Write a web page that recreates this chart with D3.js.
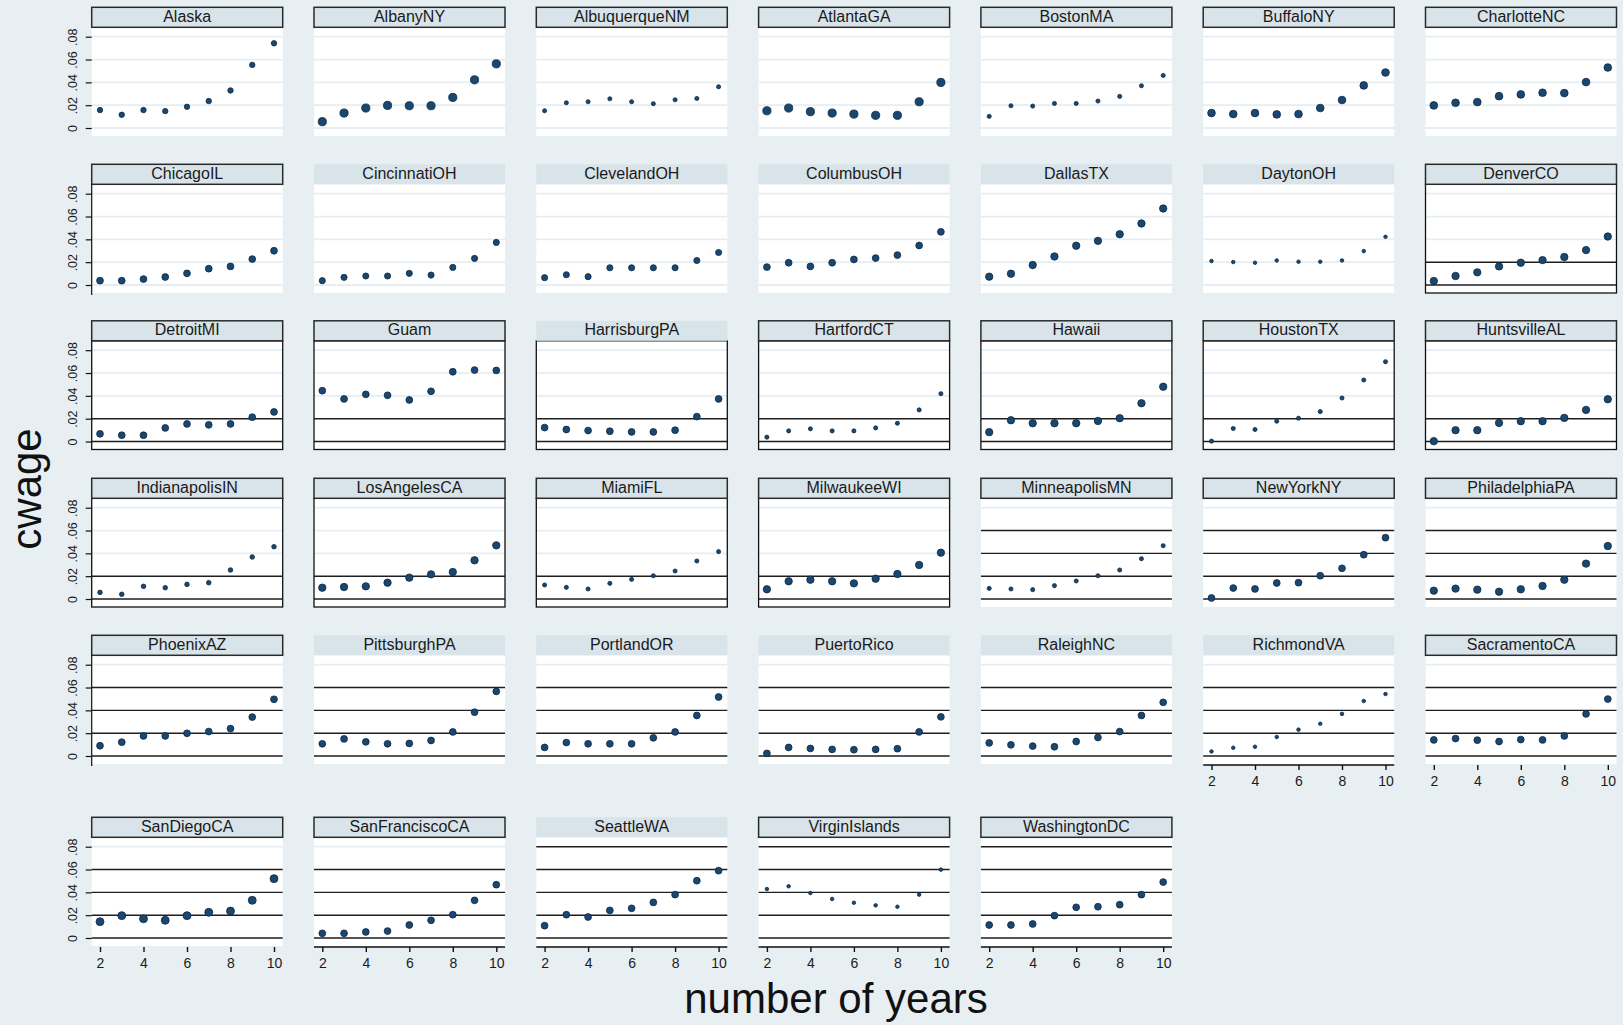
<!DOCTYPE html>
<html>
<head>
<meta charset="utf-8">
<script src="https://cdn.jsdelivr.net/npm/d3@7/dist/d3.min.js"></script>
<style>
  html, body { margin: 0; padding: 0; background: #e8eff2; }
  svg { display: block; font-family: "Liberation Sans", Arial, sans-serif; }
</style>
</head>
<body>
<svg id="chart" width="1623" height="1025"></svg>
<script>
// ---- data -------------------------------------------------------------
const cities = [
  "Alaska", "AlbanyNY", "AlbuquerqueNM", "AtlantaGA", "BostonMA", "BuffaloNY", "CharlotteNC",
  "ChicagoIL", "CincinnatiOH", "ClevelandOH", "ColumbusOH", "DallasTX", "DaytonOH", "DenverCO",
  "DetroitMI", "Guam", "HarrisburgPA", "HartfordCT", "Hawaii", "HoustonTX", "HuntsvilleAL",
  "IndianapolisIN", "LosAngelesCA", "MiamiFL", "MilwaukeeWI", "MinneapolisMN", "NewYorkNY", "PhiladelphiaPA",
  "PhoenixAZ", "PittsburghPA", "PortlandOR", "PuertoRico", "RaleighNC", "RichmondVA", "SacramentoCA",
  "SanDiegoCA", "SanFranciscoCA", "SeattleWA", "VirginIslands", "WashingtonDC"
];

const years = [2, 3, 4, 5, 6, 7, 8, 9, 10];

// cwage by city (rows follow `cities`, columns follow `years`)
const cwage = [
  [.0157, .0116, .0157, .0148, .0186, .0236, .0329, .0553, .0742],
  [.0055, .0131, .0175, .0198, .0195, .0195, .0268, .0422, .0562],
  [.0151, .0221, .0230, .0256, .0230, .0213, .0247, .0259, .0361],
  [.0151, .0175, .0143, .0131, .0122, .0111, .0111, .0230, .0399],
  [.0102, .0195, .0192, .0215, .0215, .0236, .0277, .0370, .0460],
  [.0131, .0122, .0131, .0119, .0122, .0175, .0245, .0373, .0486],
  [.0198, .0221, .0227, .0279, .0294, .0309, .0306, .0402, .0530],
  [.0038, .0038, .0052, .0070, .0102, .0143, .0163, .0227, .0300],
  [.0038, .0067, .0079, .0079, .0102, .0087, .0154, .0233, .0373],
  [.0064, .0090, .0073, .0151, .0151, .0151, .0151, .0215, .0285],
  [.0157, .0195, .0163, .0195, .0224, .0236, .0262, .0346, .0466],
  [.0073, .0099, .0175, .0250, .0344, .0387, .0445, .0539, .0670],
  [.0210, .0201, .0195, .0215, .0204, .0204, .0215, .0297, .0422],
  [.0035, .0079, .0111, .0163, .0195, .0218, .0245, .0306, .0425],
  [.0067, .0055, .0055, .0119, .0154, .0146, .0154, .0213, .0259],
  [.0445, .0373, .0413, .0405, .0364, .0440, .0611, .0626, .0623],
  [.0122, .0105, .0096, .0090, .0084, .0084, .0099, .0218, .0373],
  [.0038, .0093, .0111, .0093, .0093, .0119, .0160, .0277, .0419],
  [.0082, .0186, .0160, .0160, .0160, .0180, .0204, .0335, .0480],
  [.0003, .0114, .0105, .0178, .0204, .0262, .0381, .0539, .0699],
  [.0003, .0099, .0099, .0163, .0178, .0178, .0207, .0277, .0370],
  [.0058, .0041, .0111, .0099, .0128, .0143, .0254, .0368, .0458],
  [.0099, .0105, .0111, .0143, .0187, .0216, .0236, .0339, .0470],
  [.0123, .0102, .0088, .0137, .0172, .0204, .0245, .0333, .0415],
  [.0085, .0155, .0169, .0155, .0137, .0178, .0219, .0298, .0406],
  [.0093, .0088, .0082, .0117, .0158, .0204, .0254, .0353, .0467],
  [.0009, .0096, .0088, .0140, .0143, .0204, .0269, .0388, .0537],
  [.0073, .0091, .0082, .0064, .0085, .0114, .0169, .0310, .0464],
  [.0090, .0121, .0176, .0176, .0199, .0214, .0240, .0341, .0497],
  [.0107, .0150, .0124, .0107, .0110, .0136, .0211, .0384, .0566],
  [.0075, .0118, .0107, .0107, .0107, .0159, .0211, .0355, .0517],
  [.0023, .0075, .0066, .0058, .0055, .0058, .0064, .0211, .0343],
  [.0115, .0098, .0087, .0081, .0127, .0162, .0214, .0355, .0470],
  [.0040, .0072, .0081, .0167, .0231, .0283, .0369, .0482, .0543],
  [.0141, .0153, .0139, .0127, .0144, .0141, .0176, .0369, .0499],
  [.0143, .0196, .0169, .0155, .0196, .0225, .0236, .0330, .0520],
  [.0041, .0041, .0053, .0061, .0114, .0155, .0204, .0330, .0467],
  [.0108, .0204, .0184, .0242, .0260, .0312, .0380, .0502, .0590],
  [.0429, .0453, .0394, .0342, .0309, .0286, .0274, .0380, .0599],
  [.0114, .0114, .0123, .0196, .0269, .0274, .0292, .0380, .0490]
];

// relative cell weight per city (drives marker area)
const cellWeight = [
  7, 16, 4, 16, 4, 14, 14,
  11, 9, 9, 11, 13, 3, 13,
  11, 11, 11, 4, 13, 4, 13,
  5, 13, 4, 13, 4, 11, 13,
  11, 11, 11, 11, 11, 3, 11,
  15, 11, 11, 3, 11
];

const yTicks = [0, .02, .04, .06, .08];
const yTickLabels = ["0", ".02", ".04", ".06", ".08"];
const xTicks = [2, 4, 6, 8, 10];
const xTitle = "number of years";
const yTitle = "cwage";

// ---- layout & look ------------------------------------------------------
const COLS = 7;
const colX0 = 91.7, colStep = 222.3, panelW = 191;
const rowZero = [128, 285, 441.5, 599, 756, 938];
const stripH = 20, zeroToStripTop = 120.7, yPix = 91.3;

const look = {
  bg: "#e8eff2", plot: "#ffffff", strip: "#d8e4ea",
  lightGrid: "#e6eef1", darkGrid: "#1e1e1e",
  marker: "#1a476f", markerEdge: "#0c2a45", text: "#1a1a1a"
};
const plainStrips = new Set(["CincinnatiOH", "ClevelandOH", "ColumbusOH", "DallasTX", "DaytonOH",
  "HarrisburgPA", "PittsburghPA", "PortlandOR", "PuertoRico", "RaleighNC", "RichmondVA", "SeattleWA"]);
const xAxisPanels = new Set(["RichmondVA", "SacramentoCA", "SanDiegoCA", "SanFranciscoCA",
  "SeattleWA", "VirginIslands", "WashingtonDC"]);
const xAxisNoLine = new Set(["SacramentoCA", "SanDiegoCA"]);
const yAxisLine = new Set(["ChicagoIL", "PhoenixAZ"]);

const darkCount = i => i < 13 ? 0 : i < 25 ? 2 : i < 37 ? 4 : 5;
const framed = i => i >= 13 && i < 25;

const rScale = d3.scaleSqrt().domain([0, 16]).range([0, 4.1]);

const svg = d3.select("#chart");
svg.append("rect").attr("width", 1623).attr("height", 1025).attr("fill", look.bg);

cities.forEach((city, i) => {
  const col = i % COLS, row = Math.floor(i / COLS);
  const x0 = colX0 + col * colStep;
  const zero = rowZero[row];
  const stripTop = zero - zeroToStripTop;
  const plotTop = stripTop + stripH;
  const plotBottom = zero + 8;

  const x = d3.scaleLinear().domain([2, 10]).range([x0 + 8.3, x0 + 182.3]);
  const y = d3.scaleLinear().domain([0, .08]).range([zero, zero - yPix]);

  const g = svg.append("g").attr("class", "panel");

  // plot region
  g.append("rect")
    .attr("x", x0).attr("y", plotTop)
    .attr("width", panelW).attr("height", plotBottom - plotTop)
    .attr("fill", look.plot);

  // grid lines
  const nDark = darkCount(i);
  g.selectAll("line.grid").data(yTicks).join("line")
    .attr("class", "grid")
    .attr("x1", x0).attr("x2", x0 + panelW)
    .attr("y1", d => y(d)).attr("y2", d => y(d))
    .attr("stroke", (d, k) => k < nDark ? look.darkGrid : look.lightGrid)
    .attr("stroke-width", (d, k) => k < nDark ? 1.4 : 1.8);

  // plot frame
  if (framed(i)) {
    g.append("rect")
      .attr("x", x0).attr("y", plotTop)
      .attr("width", panelW).attr("height", plotBottom - plotTop)
      .attr("fill", "none").attr("stroke", "#111").attr("stroke-width", 1.3);
  }

  // strip with panel title
  g.append("rect")
    .attr("x", x0).attr("y", stripTop)
    .attr("width", panelW).attr("height", stripH)
    .attr("fill", look.strip)
    .attr("stroke", plainStrips.has(city) ? "none" : "#2a2a2a")
    .attr("stroke-width", 1.5);
  g.append("text")
    .attr("x", x0 + panelW / 2).attr("y", stripTop + 14.5)
    .attr("text-anchor", "middle")
    .attr("font-size", 16)
    .attr("fill", look.text)
    .text(city);

  // y axis on first column
  if (col === 0) {
    const ay = g.append("g")
      .attr("transform", `translate(${x0},0)`)
      .call(d3.axisLeft(y).tickValues(yTicks)
        .tickFormat((d, k) => yTickLabels[k]).tickSize(6).tickSizeOuter(0));
    ay.select(".domain").remove();
    if (yAxisLine.has(city)) {
      ay.append("line").attr("x1", 0).attr("x2", 0)
        .attr("y1", plotTop).attr("y2", plotBottom + 2)
        .attr("stroke", "#111").attr("stroke-width", 1.2);
    }
    ay.selectAll(".tick line").attr("stroke", "#111").attr("stroke-width", 1.2);
    ay.selectAll(".tick text")
      .attr("transform", "rotate(-90)")
      .attr("x", 0).attr("y", -14.5).attr("dy", null)
      .attr("text-anchor", "middle")
      .attr("font-size", 12.5)
      .attr("font-family", "'Liberation Sans', Arial, sans-serif")
      .attr("fill", look.text);
  }

  // x axis on bottom panels
  if (xAxisPanels.has(city)) {
    const ax = g.append("g")
      .attr("transform", `translate(0,${plotBottom + 1})`)
      .call(d3.axisBottom(x).tickValues(xTicks).tickSize(5).tickSizeOuter(0));
    ax.select(".domain").remove();
    if (!xAxisNoLine.has(city)) {
      ax.append("line").attr("x1", x0).attr("x2", x0 + panelW)
        .attr("y1", 0).attr("y2", 0)
        .attr("stroke", "#111").attr("stroke-width", 1.3);
    }
    ax.selectAll(".tick line").attr("stroke", "#111").attr("stroke-width", 1.4);
    ax.selectAll(".tick text")
      .attr("y", 21).attr("dy", null)
      .attr("font-size", 14)
      .attr("font-family", "'Liberation Sans', Arial, sans-serif")
      .attr("fill", look.text);
  }

  // markers
  const pts = years.map((yr, j) => ({ yr, v: cwage[i][j] }));
  g.selectAll("circle.pt").data(pts).join("circle")
    .attr("class", "pt")
    .attr("cx", d => x(d.yr))
    .attr("cy", d => y(d.v))
    .attr("r", rScale(cellWeight[i]))
    .attr("fill", look.marker)
    .attr("stroke", look.markerEdge)
    .attr("stroke-width", 0.8);
});

// axis titles
svg.append("text")
  .attr("transform", "translate(41,489) rotate(-90)")
  .attr("text-anchor", "middle")
  .attr("font-size", 42)
  .attr("fill", "#111")
  .text(yTitle);

svg.append("text")
  .attr("x", 836).attr("y", 1013)
  .attr("text-anchor", "middle")
  .attr("font-size", 42)
  .attr("fill", "#111")
  .text(xTitle);
</script>
</body>
</html>
